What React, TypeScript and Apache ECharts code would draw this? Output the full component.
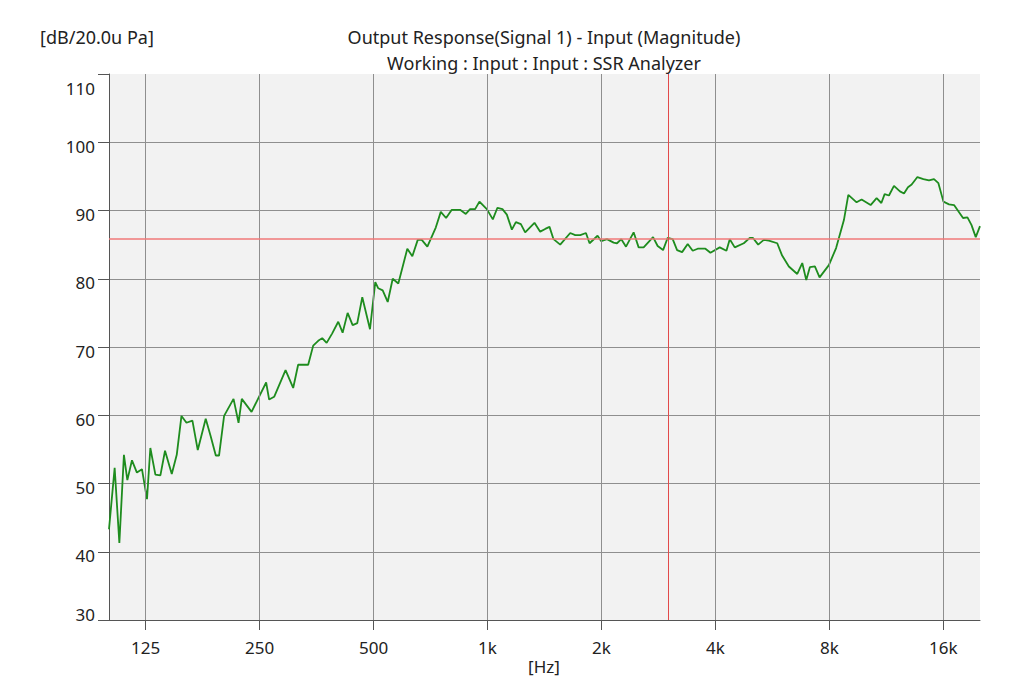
import React, { useEffect, useRef } from "react";
import * as echarts from "echarts";

// Frequency (Hz) of each measured point
const freqHz = [
  100, 103.5, 106.5, 109.5, 111.8, 115, 118.5, 122.2, 126, 128.6, 132.6, 136.7, 140.6, 146.5, 151,
  155.4, 160.2, 166.1, 171.6, 180.1, 185.7, 191.5, 195.3, 201.4, 213.3, 219.9, 224.3, 238, 260.1,
  264.9, 273.1, 292.7, 306.6, 316, 335.9, 346.3, 357, 365.8, 375.8, 388.8, 403.3, 414.2, 427, 440.2,
  452.8, 466.8, 489.2, 505.2, 514.5, 528.5, 544.9, 561.7, 581.2, 613.9, 632.9, 654.1, 670.3, 693.5,
  729.9, 752.5, 777.1, 804.6, 846.3, 876.2, 899.5, 927.3, 951.9, 995.7, 1032.8, 1062.1, 1095, 1124.8,
  1159.5, 1188.1, 1224.8, 1257.3, 1330.6, 1377.6, 1420.3, 1458, 1494, 1556, 1653.8, 1705, 1757.6,
  1819.9, 1860.1, 1953, 1997.5, 2068.1, 2153.1, 2198.1, 2256.5, 2322, 2432.1, 2507.3, 2584.9, 2737.3,
  2815, 2909.3, 2991.9, 3084.5, 3168, 3266.1, 3379.4, 3484, 3591.6, 3764, 3880.6, 4106.5, 4277.5,
  4364.4, 4499.5, 4752.9, 4930, 5021, 5188.8, 5368.8, 5535, 5826, 6002, 6252.5, 6580, 6783.8, 6951,
  7105, 7325, 7537.5, 7976, 8334, 8740, 8977, 9442, 9733, 10281, 10664, 10975, 11197, 11495, 11850,
  12291, 12595, 12904, 13198, 13666, 14175, 14663, 15119, 15529, 16012, 16565, 17078, 18039, 18530,
  18986, 19490, 20000,
];

// Level (dB re 20 uPa) of each point
const levelDb = [
  43.3, 52.3, 41.3, 54.2, 50.5, 53.4, 51.6, 52.1, 47.7, 55.2, 51.3, 51.2, 54.8, 51.4, 54.2,
  59.9, 58.9, 59.2, 54.9, 59.5, 56.9, 54.1, 54.1, 59.9, 62.4, 58.9, 62.4, 60.5, 64.8,
  62.3, 62.7, 66.6, 64.0, 67.4, 67.4, 70.2, 70.9, 71.3, 70.6, 72.0, 73.7, 72.1, 75.0, 73.2,
  73.5, 77.3, 72.6, 79.5, 78.6, 78.3, 76.6, 80.0, 79.3, 84.4, 83.3, 85.7, 85.7, 84.7,
  87.5, 89.8, 88.9, 90.1, 90.1, 89.5, 90.2, 90.2, 91.3, 90.2, 88.7, 90.4, 90.2, 89.4,
  87.2, 88.3, 88.0, 86.8, 88.2, 86.9, 87.3, 87.6, 85.8, 85.0, 86.7, 86.4, 86.4,
  86.7, 85.2, 86.3, 85.5, 85.8, 85.3, 85.2, 85.8, 84.7, 86.8, 84.6, 84.6, 86.1,
  84.8, 84.2, 86.0, 85.8, 84.2, 83.9, 85.1, 84.1, 84.4, 84.4, 83.8, 84.6, 84.1,
  85.8, 84.6, 85.2, 86.0, 86.0, 85.0, 85.7, 85.6, 85.2, 83.4, 81.8, 80.7, 82.3, 79.8,
  81.7, 81.8, 80.2, 82.0, 84.5, 88.6, 92.3, 91.2, 91.6, 90.8, 91.8, 91.1, 92.4, 92.2, 93.6,
  92.8, 92.5, 93.4, 93.8, 94.9, 94.6, 94.4, 94.6, 94.0, 91.3, 90.9, 90.8, 88.9, 89.0,
  87.9, 86.1, 87.7,
];

const xTickValues = [125, 250, 500, 1000, 2000, 4000, 8000, 16000];
const xTickLabels = ["125", "250", "500", "1k", "2k", "4k", "8k", "16k"];
const xRange = [100, 20000];
const yRange = [30, 110];
const yStep = 10;
const cursorFreq = 3000;
const cursorLevel = 85.9;

const titleLines = [
  "Output Response(Signal 1) - Input (Magnitude)",
  "Working : Input : Input : SSR Analyzer",
];
const yUnit = "[dB/20.0u Pa]";
const xUnit = "[Hz]";

const FONT = "'Noto Sans', 'DejaVu Sans', sans-serif";

export default function App() {
  const ref = useRef<HTMLDivElement>(null);

  useEffect(() => {
    if (!ref.current) return;
    const chart = echarts.init(ref.current, undefined, { renderer: "svg" });
    const data = freqHz.map((f, i) => [f, levelDb[i]]);

    chart.setOption({
      animation: false,
      backgroundColor: "#ffffff",
      grid: {
        left: 109,
        top: 74,
        right: 44,
        bottom: 70,
        show: true,
        backgroundColor: "#f2f2f2",
        borderWidth: 0,
      },
      xAxis: {
        type: "log",
        logBase: 2,
        min: xRange[0],
        max: xRange[1],
        axisLine: { show: true, lineStyle: { color: "#555555", width: 1 } },
        axisTick: {
          show: true,
          customValues: xTickValues,
          length: 10,
          inside: false,
          lineStyle: { color: "#555555", width: 1 },
        },
        axisLabel: {
          customValues: xTickValues,
          margin: 19,
          fontSize: 17,
          fontFamily: FONT,
          color: "#222222",
          formatter: (v: number) => {
            const i = xTickValues.findIndex((t) => Math.abs(t - v) < 1);
            return i >= 0 ? xTickLabels[i] : "";
          },
        },
        splitLine: { show: false },
      },
      yAxis: {
        type: "value",
        min: yRange[0],
        max: yRange[1],
        interval: yStep,
        axisLine: { show: true, lineStyle: { color: "#555555", width: 1 } },
        axisTick: { show: true, length: 11, lineStyle: { color: "#555555", width: 1 } },
        axisLabel: {
          margin: 14,
          fontSize: 17,
          fontFamily: FONT,
          color: "#222222",
          formatter: (v: number) =>
            v === yRange[1] ? `{top|${v}}` : v === yRange[0] ? `{bot|${v}}` : `{mid|${v}}`,
          rich: {
            top: { padding: [28, 0, 0, 0], fontSize: 17, fontFamily: FONT, color: "#222222" },
            bot: { padding: [0, 0, 12, 0], fontSize: 17, fontFamily: FONT, color: "#222222" },
            mid: { padding: [8, 0, 0, 0], fontSize: 17, fontFamily: FONT, color: "#222222" },
          },
        },
        splitLine: {
          show: true,
          showMinLine: false,
          showMaxLine: false,
          lineStyle: { color: "#8f8f8f", width: 1 },
        },
      },
      series: [
        {
          type: "line",
          data: [],
          z: 1,
          silent: true,
          markLine: {
            silent: true,
            symbol: ["none", "none"],
            label: { show: false },
            lineStyle: { color: "#8f8f8f", width: 1, type: "solid" },
            data: xTickValues.map((v) => ({ xAxis: v })),
          },
        },
        {
          type: "line",
          data,
          z: 3,
          showSymbol: false,
          symbol: "none",
          lineStyle: { color: "#1e8c1e", width: 1.8 },
          markLine: {
            silent: true,
            symbol: ["none", "none"],
            label: { show: false },
            data: [
              { yAxis: cursorLevel, lineStyle: { color: "#f07878", width: 1.5, type: "solid" } },
              { xAxis: cursorFreq, lineStyle: { color: "#e24a4a", width: 1, type: "solid" } },
            ],
          },
        },
      ],
      graphic: [
        {
          type: "text",
          x: 544,
          y: 37,
          style: {
            text: titleLines[0],
            fill: "#222222",
            font: `18px ${FONT}`,
            align: "center",
            verticalAlign: "middle",
          },
        },
        {
          type: "text",
          x: 544,
          y: 63,
          style: {
            text: titleLines[1],
            fill: "#222222",
            font: `18px ${FONT}`,
            align: "center",
            verticalAlign: "middle",
          },
        },
        {
          type: "text",
          x: 40,
          y: 37,
          style: {
            text: yUnit,
            fill: "#222222",
            font: `18px ${FONT}`,
            align: "left",
            verticalAlign: "middle",
          },
        },
        {
          type: "text",
          x: 544,
          y: 666,
          style: {
            text: xUnit,
            fill: "#222222",
            font: `17px ${FONT}`,
            align: "center",
            verticalAlign: "middle",
          },
        },
      ],
    });

    return () => chart.dispose();
  }, []);

  return (
    <div
      ref={ref}
      style={{ position: "fixed", left: 0, top: 0, width: 1024, height: 690 }}
    />
  );
}
